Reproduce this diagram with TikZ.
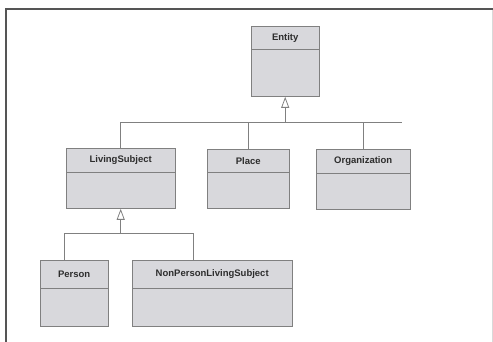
\documentclass[tikz,border=0pt]{standalone}
\usepackage{fontspec}
\setmainfont{Liberation Sans}
\usetikzlibrary{arrows.meta}
\definecolor{boxfill}{RGB}{216,216,220}
\definecolor{boxline}{RGB}{128,128,128}
\definecolor{frameline}{RGB}{85,85,85}
\definecolor{labeltext}{RGB}{45,45,45}
\begin{document}
\begin{tikzpicture}[x=1pt,y=-1pt,
  classhead/.style={draw=boxline,fill=boxfill,inner sep=0pt,anchor=north west,
    font=\fontsize{9.5}{11}\selectfont\bfseries,text=labeltext},
  classbody/.style={draw=boxline,fill=boxfill,inner sep=0pt,anchor=north},
  link/.style={draw=boxline,line width=0.8pt},
  isa/.style={link,-{Triangle[open,width=8pt,length=11pt]}}]
  \useasboundingbox (0,0) rectangle (493,342);
  % frame
  \draw[frameline,line width=2pt] (6,342) -- (6,9) -- (493,9);
  \draw[black!15,line width=0.6pt] (492,10) -- (492,342);

  % classes
  \node[classhead,minimum width=68,minimum height=23] (entity) at (251,26) {Entity};
  \node[classbody,minimum width=68,minimum height=47] (entity-body) at (entity.south) {};
  \node[classhead,minimum width=109,minimum height=24] (livingsubject) at (66,148) {LivingSubject};
  \node[classbody,minimum width=109,minimum height=36] (livingsubject-body) at (livingsubject.south) {};
  \node[classhead,minimum width=82,minimum height=23] (place) at (207,149) {Place};
  \node[classbody,minimum width=82,minimum height=36] (place-body) at (place.south) {};
  \node[classhead,minimum width=94,minimum height=24] (organization) at (316,149) {Organization};
  \node[classbody,minimum width=94,minimum height=36] (organization-body) at (organization.south) {};
  \node[classhead,minimum width=68,minimum height=28] (person) at (40,260) {Person};
  \node[classbody,minimum width=68,minimum height=38] (person-body) at (person.south) {};
  \node[classhead,minimum width=160,minimum height=28] (nonperson) at (132,260) {NonPersonLivingSubject};
  \node[classbody,minimum width=160,minimum height=38] (nonperson-body) at (nonperson.south) {};

  % generalisation
  \coordinate (bus-r) at (402,122);
  \coordinate (lsbus-l) at (64,233);
  \coordinate (lsbus-r) at (193,233);
  \draw[link] (livingsubject.north) |- (bus-r);
  \draw[link] (place.north) -- (place.north |- bus-r);
  \draw[link] (organization.north) -- (organization.north |- bus-r);
  \draw[isa] (entity-body.south |- bus-r) -- (entity-body.south);
  \draw[link] (person.north -| lsbus-l) |- (lsbus-r) -- (lsbus-r |- nonperson.north);
  \draw[isa] (livingsubject-body.south |- lsbus-r) -- (livingsubject-body.south);
\end{tikzpicture}
\end{document}
